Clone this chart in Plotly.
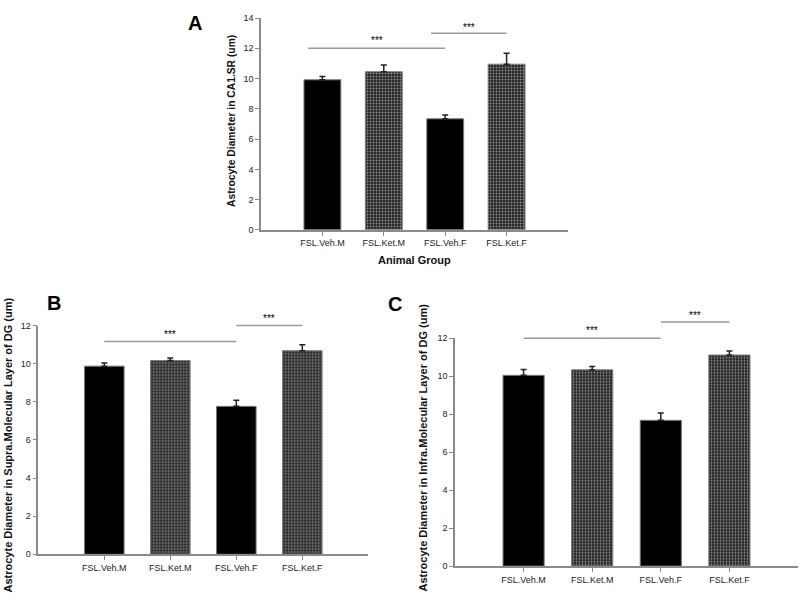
import plotly.graph_objects as go

groups = ["FSL.Veh.M", "FSL.Ket.M", "FSL.Veh.F", "FSL.Ket.F"]

# Panel A: CA1.SR
a_means = [9.92, 10.45, 7.34, 10.95]
a_err = [0.21, 0.45, 0.26, 0.72]
# Panel B: Supra molecular layer of DG
b_means = [9.87, 10.16, 7.76, 10.68]
b_err = [0.17, 0.14, 0.32, 0.31]
# Panel C: Infra molecular layer of DG
c_means = [10.05, 10.34, 7.68, 11.12]
c_err = [0.31, 0.17, 0.38, 0.21]

# significance brackets: (x_start, x_end, height, star_height)
a_sig = [(-0.23, 2.0, 12.0, 12.5), (1.77, 3.0, 13.0, 13.4)]
b_sig = [(0.0, 2.0, 11.16, 11.55), (2.0, 3.0, 12.0, 12.38)]
c_sig = [(0.0, 2.0, 12.0, 12.4), (2.0, 3.0, 12.86, 13.22)]

a_title = "Astrocyte Diameter in CA1.SR (um)"
b_title = "Astrocyte Diameter in Supra.Molecular Layer of DG (um)"
c_title = "Astrocyte Diameter in Infra.Molecular Layer of DG (um)"

W, H = 800, 595
FONT = "Liberation Sans, Arial, sans-serif"

def px(x):
    return x / W

def py(y):
    return 1 - y / H

panels = [
    dict(means=a_means, err=a_err, sig=a_sig, title=a_title, ymax=14, dtick=2,
         xd=[px(261), px(568)], yd=[py(228.7), py(13.3)], label="A",
         lab_xy=(195, 18), tit_xy=(231, 118), tsize=10.3, xtitle=True),
    dict(means=b_means, err=b_err, sig=b_sig, title=b_title, ymax=12, dtick=2,
         xd=[px(38.3), px(368.3)], yd=[py(558.7), py(326)], label="B",
         lab_xy=(54, 303), tit_xy=(8, 448), tsize=11, xtitle=False),
    dict(means=c_means, err=c_err, sig=c_sig, title=c_title, ymax=12, dtick=2,
         xd=[px(455), px(798)], yd=[py(570.7), py(339)], label="C",
         lab_xy=(395, 304), tit_xy=(423, 450), tsize=11, xtitle=False),
]

fig = go.Figure()
shapes = []
annotations = []

for i, p in enumerate(panels):
    n = "" if i == 0 else str(i + 1)
    xa, ya = "x" + n, "y" + n
    patt_shapes = ["", ".", "", "."]
    colors = ["#000000", "#222222", "#000000", "#222222"]
    fig.add_trace(go.Bar(
        x=groups, y=p["means"], width=0.6,
        marker=dict(
            color=colors,
            line=dict(color="#7a7a7a", width=1),
            pattern=dict(shape=patt_shapes, fgcolor="#6a6a6a",
                         size=3, solidity=0.35, fillmode="overlay"),
        ),
        error_y=dict(type="data", array=p["err"], arrayminus=[0] * 4, symmetric=False,
                     color="#222222", thickness=1.5, width=3),
        xaxis=xa, yaxis=ya, showlegend=False, hoverinfo="skip",
    ))
    axis_common = dict(showline=True, linecolor="#8a8a8a", linewidth=1.5,
                       ticks="outside", ticklen=4, tickcolor="#8a8a8a", tickwidth=1.2,
                       showgrid=False, zeroline=False,
                       tickfont=dict(family=FONT, size=9, color="#222222"))
    fig.update_layout({
        "xaxis" + n: dict(domain=p["xd"], anchor=ya, range=[-1, 4], type="category",
                          **axis_common),
        "yaxis" + n: dict(domain=p["yd"], anchor=xa, range=[0, p["ymax"]], dtick=p["dtick"],
                          **axis_common),
    })
    for (x0, x1, h, sh) in p["sig"]:
        shapes.append(dict(type="line", xref=xa, yref=ya + " domain", x0=x0, x1=x1,
                           y0=h / p["ymax"], y1=h / p["ymax"],
                           line=dict(color="#9a9a9a", width=1.5)))
        annotations.append(dict(xref=xa, yref=ya + " domain", x=(x0 + x1) / 2, y=sh / p["ymax"],
                                text="***", showarrow=False,
                                font=dict(family=FONT, size=10, color="#000000"),
                                xanchor="center", yanchor="middle"))
    annotations.append(dict(xref="paper", yref="paper", x=px(p["lab_xy"][0]), y=py(p["lab_xy"][1]),
                            text="<b>%s</b>" % p["label"], showarrow=False,
                            font=dict(family=FONT, size=20, color="#000000"),
                            xanchor="center", yanchor="middle"))
    annotations.append(dict(xref="paper", yref="paper", x=px(p["tit_xy"][0]), y=py(p["tit_xy"][1]),
                            text="<b>%s</b>" % p["title"], showarrow=False, textangle=-90,
                            font=dict(family=FONT, size=p["tsize"], color="#111111"),
                            xanchor="center", yanchor="middle"))
    if p["xtitle"]:
        annotations.append(dict(xref="paper", yref="paper", x=(p["xd"][0] + p["xd"][1]) / 2,
                                y=py(259), text="<b>Animal Group</b>", showarrow=False,
                                font=dict(family=FONT, size=11, color="#111111"),
                                xanchor="center", yanchor="middle"))

fig.update_layout(
    width=W, height=H, autosize=False,
    margin=dict(l=0, r=0, t=0, b=0),
    paper_bgcolor="white", plot_bgcolor="white",
    shapes=shapes, annotations=annotations,
    bargap=0.4,
)

fig.write_html("out.html", config={"displayModeBar": False},
               post_script="document.body.style.margin='0';document.body.style.overflow='hidden';")
